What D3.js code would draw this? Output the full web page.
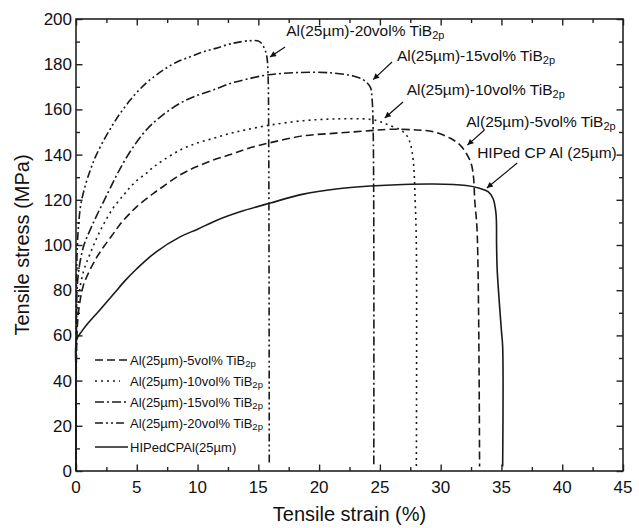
<!DOCTYPE html>
<html>
<head>
<meta charset="utf-8">
<script src="https://cdn.jsdelivr.net/npm/d3@7"></script>
<style>
  body { margin: 0; background: #fff; }
  svg text { font-family: "Liberation Sans", Arial, Helvetica, sans-serif; fill: #111; }
</style>
</head>
<body>
<div id="chart"></div>
<script>
// values, [strain %, stress MPa]
const hiped = [[0,0],[0.02,40],[0.05,58],[0.5,62],[1,65.5],[2,71.5],[3.2,79],[4,84],[5,89.5],[6.6,97],[8.6,103.7],[10,107],[11.6,111],[13.5,114.7],[16,118.6],[18.7,122.5],[21.4,124.8],[24.2,126.1],[26.9,126.8],[29.4,127],[32.1,126.3],[33.2,125.1],[33.9,123.6],[34.3,120.7],[34.55,114],[34.6,100],[34.65,89],[35.0,62],[35.1,55],[35.1,2]]
const tib5 = [[0,0],[0.05,55],[0.2,70],[0.6,82],[1.15,89],[1.7,94.5],[2.25,99],[3,104.5],[3.6,109],[4.44,114],[5,117],[5.8,120.5],[6.4,123],[7.2,126],[8.55,131],[9.9,134.6],[11.3,137.6],[12.7,140],[14,142.5],[16,145.3],[18.7,148.3],[21.4,149.5],[24.2,150.6],[25.8,151.2],[28,150.9],[29.4,150.1],[30.8,147.2],[31.6,144.2],[32.1,140.6],[32.5,136.2],[32.7,130.2],[32.8,120],[33.0,106],[33.2,2]]
const tib10 = [[0,0],[0.05,58],[0.2,76],[0.6,88],[1.15,96],[1.7,103],[2.25,109],[3.07,116.5],[3.9,122],[4.44,125.5],[5,128.5],[5.8,131.8],[6.4,134.6],[7.2,137.6],[8.55,142],[9.9,145],[11.3,147.2],[12.7,149.4],[14,151],[16,153.1],[18.7,155],[21.4,155.8],[24.2,155.6],[25,154.6],[25.7,153.1],[26.7,150.9],[27.2,148.5],[27.5,145],[27.75,137],[27.9,120],[28,100],[28,2]]
const tib15 = [[0,0],[0.03,60],[0.15,85],[0.6,99],[1.15,106.5],[1.7,113],[2.25,119],[2.8,125],[3.6,133.5],[4.6,142.5],[5.8,151],[6.9,156.5],[8.55,162.7],[9.9,166],[11.3,168.6],[12.7,171.5],[14,173.3],[15.7,175.2],[18.2,176.3],[20.9,176.2],[22.8,174.8],[23.6,173.2],[24.2,170],[24.35,165],[24.45,150],[24.5,3]]
const tib20 = [[0,0],[0.02,60],[0.08,95],[0.2,108],[0.4,118],[0.8,127],[1.2,133.5],[1.6,139],[2.25,146],[3,153],[3.6,158],[4.44,164],[5,167.5],[5.8,171.8],[6.3,174],[7.2,177.5],[8.3,181],[9.5,183.5],[10.5,185.5],[11.5,187],[12.7,189],[14.3,190.4],[15.1,190],[15.5,187],[15.7,183.3],[15.8,175],[15.85,150],[15.9,3]]

const seriesData = [tib5, tib10, tib15, tib20, hiped]
const legendNames = ["Al(25µm)-5vol% TiB", "Al(25µm)-10vol% TiB", "Al(25µm)-15vol% TiB", "Al(25µm)-20vol% TiB", "HIPedCPAl(25µm)"]
const legendSubs = ["2p", "2p", "2p", "2p", ""]
const dashes = ["8,4", "2,4", "9,3,2,3", "8,3,2,3,2,3", null]

// annotations: label, text anchor [strain, stress], arrow tail, arrow tip
const noteLabels = ["Al(25µm)-20vol% TiB", "Al(25µm)-15vol% TiB", "Al(25µm)-10vol% TiB", "Al(25µm)-5vol% TiB", "HIPed CP Al (25µm)"]
const noteSubs = ["2p", "2p", "2p", "2p", ""]
const noteAt = [[17.3, 192.6], [26.4, 181.6], [27.2, 166.2], [32.1, 152.0], [33.0, 138.4]]
const noteTail = [[17.2, 187.6], [26.0, 181.0], [26.9, 163.3], [33.6, 150.9], [36.3, 136.3]]
const noteTip = [[15.96, 183.2], [24.45, 173.2], [25.4, 156.2], [32.2, 144.2], [33.8, 125.2]]

const xMajor = d3.range(0, 46, 5)
const xMinor = d3.range(2.5, 45, 5)
const yMajor = d3.range(0, 201, 20)
const yMinor = d3.range(10, 200, 20)

const W = 639, H = 528
const margin = {top: 19, right: 16, bottom: 57, left: 76}
const width = W - margin.left - margin.right
const height = H - margin.top - margin.bottom

const svg = d3.select("#chart").append("svg")
  .attr("width", W).attr("height", H)

const g = svg.append("g")
  .attr("transform", `translate(${margin.left},${margin.top})`)

const x = d3.scaleLinear().domain([0, 45]).range([0, width])
const y = d3.scaleLinear().domain([0, 200]).range([height, 0])

// ticks pointing inward on all four sides
function tickAxis(axis, scale, vals, len, tr) {
  g.append("g")
    .attr("transform", tr)
    .call(axis(scale).tickValues(vals).tickSize(len).tickFormat(""))
    .call(s => s.select(".domain").remove())
    .selectAll("line").attr("stroke", "#222").attr("stroke-width", 1.4)
}
tickAxis(d3.axisTop, x, xMajor, 6.5, `translate(0,${height})`)
tickAxis(d3.axisTop, x, xMinor, 4, `translate(0,${height})`)
tickAxis(d3.axisBottom, x, xMajor, 6.5, "translate(0,0)")
tickAxis(d3.axisBottom, x, xMinor, 4, "translate(0,0)")
tickAxis(d3.axisRight, y, yMajor, 6.5, "translate(0,0)")
tickAxis(d3.axisRight, y, yMinor, 4, "translate(0,0)")
tickAxis(d3.axisLeft, y, yMajor, 6.5, `translate(${width},0)`)
tickAxis(d3.axisLeft, y, yMinor, 4, `translate(${width},0)`)

g.append("rect")
  .attr("width", width).attr("height", height)
  .attr("fill", "none").attr("stroke", "#222").attr("stroke-width", 1.6)

// tick labels
g.append("g").selectAll("text")
  .data(xMajor).join("text")
  .attr("x", d => x(d)).attr("y", height + 22)
  .attr("text-anchor", "middle")
  .style("font-size", "17px")
  .text(d => d)

g.append("g").selectAll("text")
  .data(yMajor).join("text")
  .attr("x", -4).attr("y", d => y(d) + 6)
  .attr("text-anchor", "end")
  .style("font-size", "17px")
  .text(d => d)

// axis titles
svg.append("text")
  .attr("x", margin.left + width / 2).attr("y", 521)
  .attr("text-anchor", "middle")
  .style("font-size", "20px")
  .text("Tensile strain (%)")

svg.append("text")
  .attr("transform", `translate(29,${margin.top + height / 2}) rotate(-90)`)
  .attr("text-anchor", "middle")
  .style("font-size", "20px")
  .text("Tensile stress (MPa)")

// curves
const line = d3.line()
  .x(d => x(d[0])).y(d => y(d[1]))
  .curve(d3.curveCatmullRom.alpha(0.5))

g.append("g").selectAll("path")
  .data(seriesData).join("path")
  .attr("d", d => line(d))
  .attr("fill", "none")
  .attr("stroke", "#1a1a1a")
  .attr("stroke-width", 1.6)
  .attr("stroke-dasharray", (d, i) => dashes[i])

// arrow marker
svg.append("defs").append("marker")
  .attr("id", "arr")
  .attr("viewBox", "0 0 10 10")
  .attr("refX", 10).attr("refY", 5)
  .attr("markerUnits", "userSpaceOnUse")
  .attr("markerWidth", 9).attr("markerHeight", 6)
  .attr("orient", "auto")
  .append("path").attr("d", "M0,0 L10,5 L0,10 z").attr("fill", "#111")

const notes = g.append("g")
notes.selectAll("line")
  .data(noteTip).join("line")
  .attr("x1", (d, i) => x(noteTail[i][0])).attr("y1", (d, i) => y(noteTail[i][1]))
  .attr("x2", d => x(d[0])).attr("y2", d => y(d[1]))
  .attr("stroke", "#111").attr("stroke-width", 1.2)
  .attr("marker-end", "url(#arr)")

const nt = notes.selectAll("text")
  .data(noteLabels).join("text")
  .attr("x", (d, i) => x(noteAt[i][0])).attr("y", (d, i) => y(noteAt[i][1]))
  .style("font-size", "15.5px")
  .text(d => d)
nt.append("tspan")
  .attr("dy", 3)
  .style("font-size", "11px")
  .text((d, i) => noteSubs[i])

// legend
const legY = [360, 381, 402, 423, 447]
const legLen = [32, 25, 32, 30, 33]
const leg = svg.append("g")
legendNames.forEach(function (name, i) {
  leg.append("line")
    .attr("x1", 95).attr("x2", 95 + legLen[i])
    .attr("y1", legY[i]).attr("y2", legY[i])
    .attr("stroke", "#1a1a1a").attr("stroke-width", 1.6)
    .attr("stroke-dasharray", dashes[i])
  const t = leg.append("text")
    .attr("x", 130).attr("y", legY[i] + 4.5)
    .style("font-size", "13px")
    .text(name)
  t.append("tspan").attr("dy", 2.5).style("font-size", "9.5px").text(legendSubs[i])
})
</script>
</body>
</html>
